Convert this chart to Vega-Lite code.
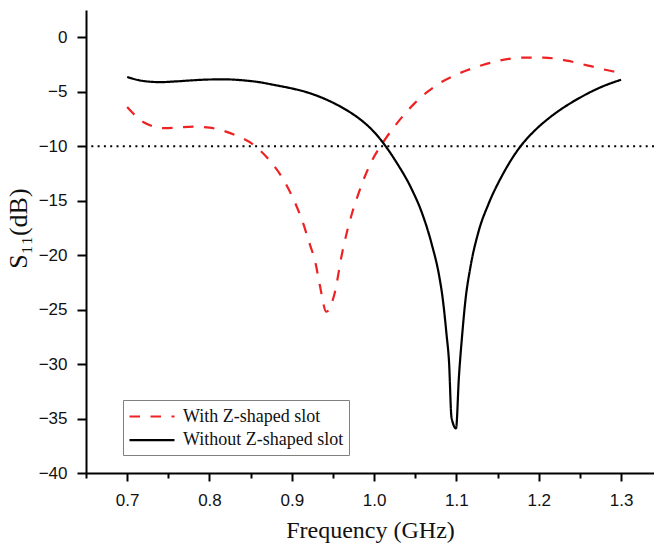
{
  "$schema": "https://vega.github.io/schema/vega-lite/v6.json",
  "width": 568,
  "height": 463,
  "autosize": {"type": "none"},
  "padding": {"left": 86, "top": 10, "right": 0, "bottom": 79},
  "background": "white",
  "config": {"view": {"stroke": null}},
  "datasets": {
    "curves": [
      {"series": "With Z-shaped slot", "f": 0.70, "s11": -6.4},
      {"series": "With Z-shaped slot", "f": 0.72, "s11": -7.8},
      {"series": "With Z-shaped slot", "f": 0.745, "s11": -8.35},
      {"series": "With Z-shaped slot", "f": 0.76, "s11": -8.3},
      {"series": "With Z-shaped slot", "f": 0.78, "s11": -8.2},
      {"series": "With Z-shaped slot", "f": 0.80, "s11": -8.3},
      {"series": "With Z-shaped slot", "f": 0.815, "s11": -8.55},
      {"series": "With Z-shaped slot", "f": 0.832, "s11": -9.0},
      {"series": "With Z-shaped slot", "f": 0.854, "s11": -9.9},
      {"series": "With Z-shaped slot", "f": 0.874, "s11": -11.4},
      {"series": "With Z-shaped slot", "f": 0.89, "s11": -13.1},
      {"series": "With Z-shaped slot", "f": 0.9025, "s11": -14.95},
      {"series": "With Z-shaped slot", "f": 0.9125, "s11": -16.8},
      {"series": "With Z-shaped slot", "f": 0.921, "s11": -18.8},
      {"series": "With Z-shaped slot", "f": 0.929, "s11": -20.8},
      {"series": "With Z-shaped slot", "f": 0.934, "s11": -22.75},
      {"series": "With Z-shaped slot", "f": 0.942, "s11": -25.2},
      {"series": "With Z-shaped slot", "f": 0.951, "s11": -23.8},
      {"series": "With Z-shaped slot", "f": 0.962, "s11": -19.5},
      {"series": "With Z-shaped slot", "f": 0.973, "s11": -16.2},
      {"series": "With Z-shaped slot", "f": 0.979, "s11": -14.8},
      {"series": "With Z-shaped slot", "f": 0.9855, "s11": -13.4},
      {"series": "With Z-shaped slot", "f": 0.9976, "s11": -11.3},
      {"series": "With Z-shaped slot", "f": 1.01, "s11": -9.75},
      {"series": "With Z-shaped slot", "f": 1.026, "s11": -8.07},
      {"series": "With Z-shaped slot", "f": 1.05, "s11": -6.0},
      {"series": "With Z-shaped slot", "f": 1.065, "s11": -5.0},
      {"series": "With Z-shaped slot", "f": 1.079, "s11": -4.25},
      {"series": "With Z-shaped slot", "f": 1.103, "s11": -3.33},
      {"series": "With Z-shaped slot", "f": 1.131, "s11": -2.57},
      {"series": "With Z-shaped slot", "f": 1.152, "s11": -2.15},
      {"series": "With Z-shaped slot", "f": 1.18, "s11": -1.87},
      {"series": "With Z-shaped slot", "f": 1.206, "s11": -1.87},
      {"series": "With Z-shaped slot", "f": 1.234, "s11": -2.15},
      {"series": "With Z-shaped slot", "f": 1.26, "s11": -2.6},
      {"series": "With Z-shaped slot", "f": 1.288, "s11": -3.1},
      {"series": "With Z-shaped slot", "f": 1.30, "s11": -3.25},
      {"series": "Without Z-shaped slot", "f": 0.70, "s11": -3.65},
      {"series": "Without Z-shaped slot", "f": 0.72, "s11": -4.02},
      {"series": "Without Z-shaped slot", "f": 0.74, "s11": -4.12},
      {"series": "Without Z-shaped slot", "f": 0.76, "s11": -4.05},
      {"series": "Without Z-shaped slot", "f": 0.78, "s11": -3.95},
      {"series": "Without Z-shaped slot", "f": 0.80, "s11": -3.88},
      {"series": "Without Z-shaped slot", "f": 0.82, "s11": -3.87},
      {"series": "Without Z-shaped slot", "f": 0.84, "s11": -3.95},
      {"series": "Without Z-shaped slot", "f": 0.86, "s11": -4.12},
      {"series": "Without Z-shaped slot", "f": 0.88, "s11": -4.4},
      {"series": "Without Z-shaped slot", "f": 0.90, "s11": -4.7},
      {"series": "Without Z-shaped slot", "f": 0.916, "s11": -5.0},
      {"series": "Without Z-shaped slot", "f": 0.935, "s11": -5.5},
      {"series": "Without Z-shaped slot", "f": 0.955, "s11": -6.2},
      {"series": "Without Z-shaped slot", "f": 0.97, "s11": -6.85},
      {"series": "Without Z-shaped slot", "f": 0.985, "s11": -7.65},
      {"series": "Without Z-shaped slot", "f": 1.00, "s11": -8.7},
      {"series": "Without Z-shaped slot", "f": 1.012, "s11": -9.8},
      {"series": "Without Z-shaped slot", "f": 1.026, "s11": -11.35},
      {"series": "Without Z-shaped slot", "f": 1.046, "s11": -14.0},
      {"series": "Without Z-shaped slot", "f": 1.058, "s11": -16.1},
      {"series": "Without Z-shaped slot", "f": 1.07, "s11": -19.0},
      {"series": "Without Z-shaped slot", "f": 1.079, "s11": -21.9},
      {"series": "Without Z-shaped slot", "f": 1.083, "s11": -23.8},
      {"series": "Without Z-shaped slot", "f": 1.088, "s11": -27.3},
      {"series": "Without Z-shaped slot", "f": 1.091, "s11": -29.8},
      {"series": "Without Z-shaped slot", "f": 1.094, "s11": -34.9},
      {"series": "Without Z-shaped slot", "f": 1.0995, "s11": -35.9},
      {"series": "Without Z-shaped slot", "f": 1.103, "s11": -31.2},
      {"series": "Without Z-shaped slot", "f": 1.107, "s11": -27.3},
      {"series": "Without Z-shaped slot", "f": 1.111, "s11": -24.1},
      {"series": "Without Z-shaped slot", "f": 1.117, "s11": -21.1},
      {"series": "Without Z-shaped slot", "f": 1.127, "s11": -17.8},
      {"series": "Without Z-shaped slot", "f": 1.139, "s11": -15.3},
      {"series": "Without Z-shaped slot", "f": 1.1555, "s11": -12.7},
      {"series": "Without Z-shaped slot", "f": 1.176, "s11": -10.2},
      {"series": "Without Z-shaped slot", "f": 1.196, "s11": -8.5},
      {"series": "Without Z-shaped slot", "f": 1.212, "s11": -7.45},
      {"series": "Without Z-shaped slot", "f": 1.25, "s11": -5.55},
      {"series": "Without Z-shaped slot", "f": 1.275, "s11": -4.6},
      {"series": "Without Z-shaped slot", "f": 1.30, "s11": -3.9}
    ],
    "threshold": [{"level": -10}]
  },
  "layer": [
    {
      "data": {"name": "threshold"},
      "mark": {"type": "rule", "color": "black", "strokeWidth": 2, "strokeDash": [2, 4.3]},
      "encoding": {
        "y": {"field": "level", "type": "quantitative", "scale": {"domain": [-40, 2.5], "nice": false, "zero": false}}
      }
    },
    {
      "data": {"name": "curves"},
      "mark": {"type": "line", "strokeWidth": 2.2, "interpolate": "monotone"},
      "encoding": {
        "x": {
          "field": "f", "type": "quantitative",
          "scale": {"domain": [0.65, 1.34], "nice": false, "zero": false},
          "axis": {
            "title": "Frequency (GHz)",
            "values": [0.65, 0.7, 0.75, 0.8, 0.85, 0.9, 0.95, 1.0, 1.05, 1.1, 1.15, 1.2, 1.25, 1.3],
            "labelExpr": "abs(datum.value*10 - round(datum.value*10)) < 0.01 ? format(datum.value, '.1f') : ''",
            "labelOverlap": false,
            "labelFlush": false,
            "grid": false,
            "domainColor": "black", "domainWidth": 2,
            "tickColor": "black", "tickWidth": 2,
            "tickSize": {"condition": {"test": "abs(datum.value*10 - round(datum.value*10)) < 0.01", "value": 8}, "value": 5},
            "labelFont": "Liberation Sans", "labelFontSize": 17, "labelColor": "#111",
            "labelPadding": 11,
            "titleFont": "Liberation Serif", "titleFontSize": 24, "titleFontWeight": "normal", "titleColor": "#111",
            "titlePadding": 10
          }
        },
        "y": {
          "field": "s11", "type": "quantitative",
          "scale": {"domain": [-40, 2.5], "nice": false, "zero": false},
          "axis": {
            "title": "S₁₁(dB)",
            "values": [-40, -37.5, -35, -32.5, -30, -27.5, -25, -22.5, -20, -17.5, -15, -12.5, -10, -7.5, -5, -2.5, 0],
            "labelExpr": "datum.value % 5 === 0 ? format(datum.value, 'd') : ''",
            "labelOverlap": false,
            "labelFlush": false,
            "grid": false,
            "domainColor": "black", "domainWidth": 2,
            "tickColor": "black", "tickWidth": 2,
            "tickSize": {"condition": {"test": "datum.value % 5 === 0", "value": 9}, "value": 5},
            "labelFont": "Liberation Sans", "labelFontSize": 17, "labelColor": "#111",
            "labelPadding": 10,
            "titleFont": "Liberation Serif", "titleFontSize": 26, "titleFontWeight": "normal", "titleColor": "#111",
            "titlePadding": 7,
            "titleY": 218
          }
        },
        "color": {
          "field": "series", "type": "nominal",
          "scale": {"domain": ["With Z-shaped slot", "Without Z-shaped slot"], "range": ["#ee2222", "#000000"]},
          "legend": {
            "title": null,
            "orient": "none",
            "legendX": 37,
            "legendY": 390,
            "symbolType": "M-1,0H3.5",
            "symbolSize": 400,
            "symbolStrokeWidth": 2.2,
            "symbolFillColor": "transparent",
            "labelFont": "Liberation Serif",
            "labelFontSize": 18,
            "labelColor": "#111",
            "labelLimit": 400,
            "labelOffset": 32,
            "rowPadding": 2.6,
            "padding": 5,
            "strokeColor": "#808080",
            "fillColor": "white"
          }
        },
        "strokeDash": {
          "field": "series", "type": "nominal",
          "scale": {"domain": ["With Z-shaped slot", "Without Z-shaped slot"], "range": [[10.5, 10.5], [1, 0]]},
          "legend": {
            "title": null,
            "orient": "none",
            "legendX": 37,
            "legendY": 390,
            "symbolType": "M-1,0H3.5",
            "symbolSize": 400,
            "symbolStrokeWidth": 2.2,
            "symbolFillColor": "transparent",
            "labelFont": "Liberation Serif",
            "labelFontSize": 18,
            "labelColor": "#111",
            "labelLimit": 400,
            "labelOffset": 32,
            "rowPadding": 2.6,
            "padding": 5,
            "strokeColor": "#808080",
            "fillColor": "white"
          }
        }
      }
    }
  ]
}
